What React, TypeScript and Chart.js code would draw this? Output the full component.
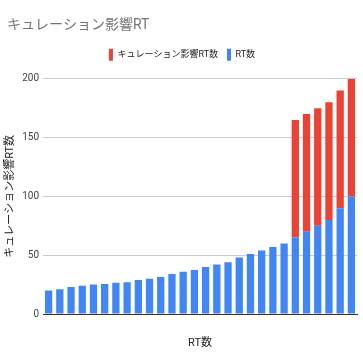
import React, { useEffect, useRef } from "react";
import { Chart, registerables } from "chart.js";

Chart.register(...registerables);

const categories = [
  "1", "2", "3", "4", "5", "6", "7", "8", "9", "10",
  "11", "12", "13", "14", "15", "16", "17", "18", "19", "20",
  "21", "22", "23", "24", "25", "26", "27", "28",
];

const rtCounts = [
  20, 21, 23, 24, 25, 25.5, 26.5, 27, 29, 30,
  31.5, 34, 36, 37.5, 40, 42, 44, 48, 51, 54,
  57, 60, 65, 70, 75, 80, 90, 100,
];

const curationCounts = [
  0, 0, 0, 0, 0, 0, 0, 0, 0, 0,
  0, 0, 0, 0, 0, 0, 0, 0, 0, 0,
  0, 0, 100, 100, 100, 100, 100, 100,
];

const yTicks = [0, 50, 100, 150, 200];

const FONT = "Roboto, 'Noto Sans CJK JP', sans-serif";

export default function App() {
  const ref = useRef<HTMLCanvasElement | null>(null);

  useEffect(() => {
    if (!ref.current) return;
    const chart = new Chart(ref.current, {
      type: "bar",
      data: {
        labels: categories,
        datasets: [
          {
            label: "RT数",
            data: rtCounts,
            backgroundColor: "#4285f4",
            borderWidth: 0,
            barPercentage: 0.65,
            categoryPercentage: 1,
          },
          {
            label: "キュレーション影響RT数",
            data: curationCounts,
            backgroundColor: "#ea4335",
            borderWidth: 0,
            barPercentage: 0.65,
            categoryPercentage: 1,
          },
        ],
      },
      options: {
        responsive: false,
        animation: false,
        layout: { padding: { left: 7, right: 6, top: 0, bottom: 0 } },
        plugins: {
          title: {
            display: true,
            text: "キュレーション影響RT",
            align: "start",
            color: "#757575",
            font: { family: FONT, size: 14, weight: "normal" },
            padding: { top: 17, bottom: 6 },
          },
          subtitle: {
            display: true,
            text: "",
            weight: 500,
            font: { family: FONT, size: 8, lineHeight: 1 },
            padding: 0,
          } as any,
          legend: {
            display: true,
            position: "top",
            reverse: true,
            labels: {
              boxWidth: 4,
              boxHeight: 12,
              padding: 9,
              color: "#222",
              font: { family: FONT, size: 9 },
            },
          },
          tooltip: { enabled: false },
        },
        scales: {
          x: {
            stacked: true,
            grid: { display: false, drawTicks: false },
            border: { display: true, color: "#333", width: 1 },
            ticks: { display: false },
            title: {
              display: true,
              text: "RT数",
              color: "#222",
              font: { family: FONT, size: 11 },
              padding: { top: 0, bottom: 13 },
            },
            afterFit: (s: any) => {
              s.height = 49;
            },
          },
          y: {
            stacked: true,
            min: 0,
            max: 200,
            afterBuildTicks: (s: any) => {
              s.ticks = yTicks.map((v) => ({ value: v }));
            },
            grid: { color: "#cccccc", drawTicks: false },
            border: { display: false },
            ticks: {
              padding: 4,
              color: "#444",
              font: { family: FONT, size: 10 },
            },
            title: {
              display: true,
              text: "キュレーション影響RT数",
              color: "#222",
              font: { family: FONT, size: 11 },
              padding: { top: -3, bottom: 0 },
            },
            afterFit: (s: any) => {
              s.width = 36;
            },
          },
        },
      },
    });
    return () => chart.destroy();
  }, []);

  return (
    <div style={{ position: "absolute", left: 0, top: 0, width: 363, height: 363, background: "#fff" }}>
      <canvas ref={ref} width={363} height={363} style={{ display: "block" }} />
    </div>
  );
}
